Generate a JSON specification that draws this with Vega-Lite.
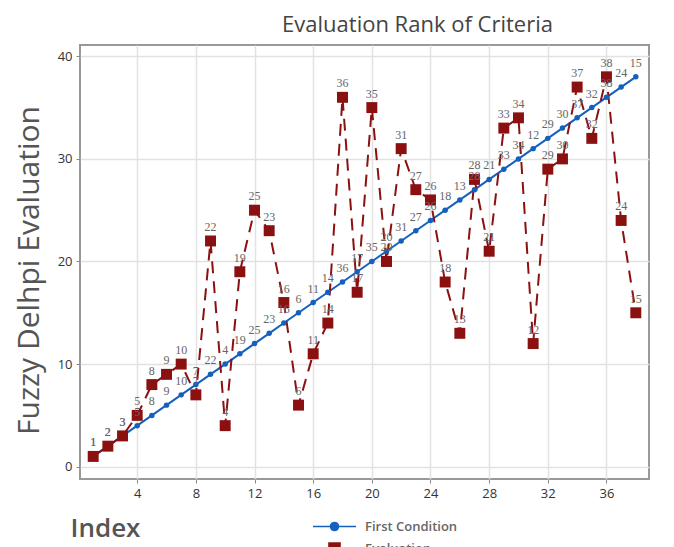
{
  "$schema": "https://vega.github.io/schema/vega-lite/v6.json",
  "width": 569,
  "height": 434,
  "autosize": {"type": "none"},
  "padding": {"left": 80, "top": 45, "right": 25, "bottom": 68},
  "background": "white",
  "title": {
    "text": "Evaluation Rank of Criteria",
    "font": "Open Sans",
    "fontSize": 22,
    "fontWeight": "normal",
    "color": "#444444",
    "anchor": "middle",
    "dx": 53,
    "offset": 8
  },
  "data": {
    "values": [
      {"Index": 1, "First Condition": 1, "Evaluation": 1},
      {"Index": 2, "First Condition": 2, "Evaluation": 2},
      {"Index": 3, "First Condition": 3, "Evaluation": 3},
      {"Index": 4, "First Condition": 4, "Evaluation": 5},
      {"Index": 5, "First Condition": 5, "Evaluation": 8},
      {"Index": 6, "First Condition": 6, "Evaluation": 9},
      {"Index": 7, "First Condition": 7, "Evaluation": 10},
      {"Index": 8, "First Condition": 8, "Evaluation": 7},
      {"Index": 9, "First Condition": 9, "Evaluation": 22},
      {"Index": 10, "First Condition": 10, "Evaluation": 4},
      {"Index": 11, "First Condition": 11, "Evaluation": 19},
      {"Index": 12, "First Condition": 12, "Evaluation": 25},
      {"Index": 13, "First Condition": 13, "Evaluation": 23},
      {"Index": 14, "First Condition": 14, "Evaluation": 16},
      {"Index": 15, "First Condition": 15, "Evaluation": 6},
      {"Index": 16, "First Condition": 16, "Evaluation": 11},
      {"Index": 17, "First Condition": 17, "Evaluation": 14},
      {"Index": 18, "First Condition": 18, "Evaluation": 36},
      {"Index": 19, "First Condition": 19, "Evaluation": 17},
      {"Index": 20, "First Condition": 20, "Evaluation": 35},
      {"Index": 21, "First Condition": 21, "Evaluation": 20},
      {"Index": 22, "First Condition": 22, "Evaluation": 31},
      {"Index": 23, "First Condition": 23, "Evaluation": 27},
      {"Index": 24, "First Condition": 24, "Evaluation": 26},
      {"Index": 25, "First Condition": 25, "Evaluation": 18},
      {"Index": 26, "First Condition": 26, "Evaluation": 13},
      {"Index": 27, "First Condition": 27, "Evaluation": 28},
      {"Index": 28, "First Condition": 28, "Evaluation": 21},
      {"Index": 29, "First Condition": 29, "Evaluation": 33},
      {"Index": 30, "First Condition": 30, "Evaluation": 34},
      {"Index": 31, "First Condition": 31, "Evaluation": 12},
      {"Index": 32, "First Condition": 32, "Evaluation": 29},
      {"Index": 33, "First Condition": 33, "Evaluation": 30},
      {"Index": 34, "First Condition": 34, "Evaluation": 37},
      {"Index": 35, "First Condition": 35, "Evaluation": 32},
      {"Index": 36, "First Condition": 36, "Evaluation": 38},
      {"Index": 37, "First Condition": 37, "Evaluation": 24},
      {"Index": 38, "First Condition": 38, "Evaluation": 15}
    ]
  },
  "transform": [
    {"fold": ["First Condition", "Evaluation"], "as": ["Series", "Value"]}
  ],
  "encoding": {
    "x": {
      "field": "Index",
      "type": "quantitative",
      "scale": {"domain": [0.1, 38.9], "nice": false, "zero": false},
      "axis": {
        "title": "Index",
        "values": [4, 8, 12, 16, 20, 24, 28, 32, 36],
        "titleX": -10,
        "titleY": 49,
        "titleAlign": "left",
        "titleBaseline": "middle",
        "titleAnchor": null,
        "titleFont": "Open Sans",
        "titleFontSize": 26,
        "titleFontWeight": 600,
        "titleColor": "#555555"
      }
    },
    "y": {
      "field": "Value",
      "type": "quantitative",
      "scale": {"domain": [-1.2, 41.1], "nice": false, "zero": false},
      "axis": {
        "title": "Fuzzy Delhpi Evaluation",
        "values": [0, 10, 20, 30, 40],
        "titleX": -51,
        "titleY": 225,
        "titleAngle": -90,
        "titleAlign": "center",
        "titleBaseline": "middle",
        "titleFont": "Open Sans",
        "titleFontSize": 30,
        "titleFontWeight": 500,
        "titleColor": "#555555"
      }
    },
    "color": {
      "field": "Series",
      "type": "nominal",
      "scale": {"domain": ["First Condition", "Evaluation"], "range": ["#1560bd", "#8b1010"]},
      "legend": {
        "title": null,
        "orient": "none",
        "legendX": 248,
        "legendY": 475,
        "direction": "vertical",
        "symbolSize": 100,
        "symbolOpacity": 1,
        "symbolStrokeWidth": 1.6,
        "labelOffset": 24,
        "rowPadding": 5,
        "labelFont": "Open Sans",
        "labelFontSize": 13,
        "labelFontWeight": 600,
        "labelColor": "#666666"
      }
    }
  },
  "layer": [
    {
      "transform": [{"filter": "datum.Series === 'First Condition'"}],
      "mark": {"type": "line", "strokeWidth": 2}
    },
    {
      "transform": [{"filter": "datum.Series === 'Evaluation'"}],
      "mark": {"type": "line", "strokeWidth": 2, "strokeDash": [12, 8]}
    },
    {
      "transform": [{"filter": "datum.Series === 'First Condition'"}],
      "mark": {"type": "point", "shape": "circle", "filled": true, "size": 30, "opacity": 1}
    },
    {
      "transform": [{"filter": "datum.Series === 'Evaluation'"}],
      "mark": {"type": "point", "shape": "square", "filled": true, "size": 120, "opacity": 1}
    },
    {
      "mark": {"type": "text", "font": "Liberation Serif", "fontSize": 12, "baseline": "middle", "dy": -14},
      "encoding": {
        "text": {"field": "Evaluation", "type": "quantitative"},
        "color": {"value": "#666666"}
      }
    },
    {
      "mark": {"type": "point", "filled": true, "opacity": 0, "size": 100},
      "encoding": {
        "shape": {
          "field": "Series",
          "type": "nominal",
          "scale": {
            "domain": ["First Condition", "Evaluation"],
            "range": [
              "M-4.3,0H4.3M0.8,0A0.8,0.8 0 1,1 -0.8,0A0.8,0.8 0 1,1 0.8,0Z",
              "M-4.3,0H-2.5M-1.1,-1.1H1.1V1.1H-1.1ZM2.5,0H4.3"
            ]
          },
          "legend": {
            "title": null,
            "orient": "none",
            "legendX": 248,
            "legendY": 475,
            "direction": "vertical",
            "symbolSize": 100,
            "symbolOpacity": 1,
            "symbolStrokeWidth": 1.6,
            "labelOffset": 24,
            "rowPadding": 5,
            "labelFont": "Open Sans",
            "labelFontSize": 13,
            "labelFontWeight": 600,
            "labelColor": "#666666",
            "encode": {
              "symbols": {
                "update": {
                  "fill": {"scale": "color", "field": "value"},
                  "stroke": {"scale": "color", "field": "value"},
                  "opacity": {"value": 1}
                }
              }
            }
          }
        }
      }
    }
  ],
  "config": {
    "view": {"stroke": "#999999", "strokeWidth": 2},
    "axis": {
      "grid": true,
      "gridColor": "#e2e2e2",
      "gridWidth": 1.5,
      "domain": false,
      "ticks": true,
      "tickSize": 4,
      "tickColor": "#888888",
      "labelFont": "Open Sans",
      "labelFontSize": 13,
      "labelColor": "#333333",
      "labelPadding": 4
    }
  }
}
